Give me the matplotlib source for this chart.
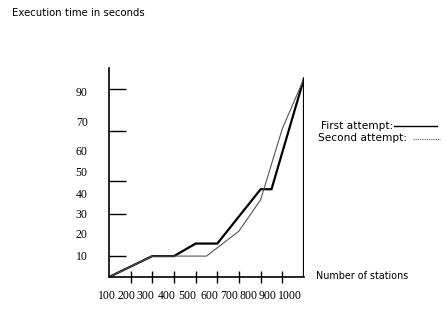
import matplotlib
matplotlib.use("Agg")
import matplotlib.pyplot as plt
from matplotlib.lines import Line2D

# data (x = number of stations, y = seconds)
stations_first = [100, 300, 400, 500, 600, 800, 850, 1000]
time_first = [0, 10, 10, 16, 16, 42, 42, 95]
stations_second = [100, 300, 400, 550, 700, 800, 900, 1000]
time_second = [0, 10, 10, 10, 22, 37, 71, 95]

xtick_marks = [200, 300, 400, 500, 600, 700, 800, 900]
ytick_marks = [10, 30, 46, 70, 90]
xlabels = ["100", "200", "300", "400", "500", "600", "700", "800", "900", "1000"]
ylabels = ["10", "20", "30", "40", "50", "60", "70", "90"]
# where the (hand placed) labels sit in the original
xlabel_pos = [107, 126, 145, 167, 187, 209, 229, 248, 268, 290]   # pixels
ylabel_pos = [9.6, 20, 29.7, 39.2, 49.8, 59.8, 73.7, 88]          # data units

W, H = 446, 312
fig = plt.figure(figsize=(W / 100, H / 100), dpi=100)
ax = fig.add_axes([109 / W, (H - 277) / H, 195 / W, 209 / H])

ax.plot(stations_first, time_first, color="black", lw=1.6, solid_joinstyle="miter")
ax.plot(stations_second, time_second, color="#555555", lw=0.8)
ax.vlines(stations_first[-1], 0, time_first[-1], color="black", lw=1.6)

ax.set_xlim(100, 1000)
ax.set_ylim(0, 100)
ax.spines["top"].set_visible(False)
ax.spines["right"].set_visible(False)
for s in ["left", "bottom"]:
    ax.spines[s].set_linewidth(1.2)

ax.set_xticks(xtick_marks)
ax.set_xticklabels([])
ax.tick_params(axis="x", direction="inout", length=8, width=1)
ax.set_yticks(ytick_marks)
ax.set_yticklabels([])
ax.tick_params(axis="y", direction="in", length=12, width=1)

serif = "Liberation Serif"
for lab, px in zip(xlabels, xlabel_pos):
    fig.text(px / W, 1 - 296 / H, lab, ha="center", va="center",
             family=serif, fontsize=8.5)
for lab, yv in zip(ylabels, ylabel_pos):
    ax.text(-0.14, yv, lab, transform=ax.get_yaxis_transform(),
            ha="center", va="center", family=serif, fontsize=8.5)

fig.text(12 / W, 1 - 13 / H, "Execution time in seconds", ha="left",
         va="center", fontsize=7.3)
fig.text(316 / W, 1 - 276 / H, "Number of stations", ha="left",
         va="center", fontsize=6.9)

# legend, text first and line after it
fig.text(321 / W, 1 - 126 / H, "First attempt:", ha="left", va="center", fontsize=7.6)
fig.text(318 / W, 1 - 138 / H, "Second attempt:", ha="left", va="center", fontsize=7.6)
fig.add_artist(Line2D([394 / W, 437 / W], [1 - 126 / H, 1 - 126 / H],
                      color="black", lw=1))
fig.add_artist(Line2D([413 / W, 440 / W], [1 - 139 / H, 1 - 139 / H],
                      color="#555555", lw=0.8, linestyle=(0, (1, 1))))

fig.savefig("out.png", dpi=100)
